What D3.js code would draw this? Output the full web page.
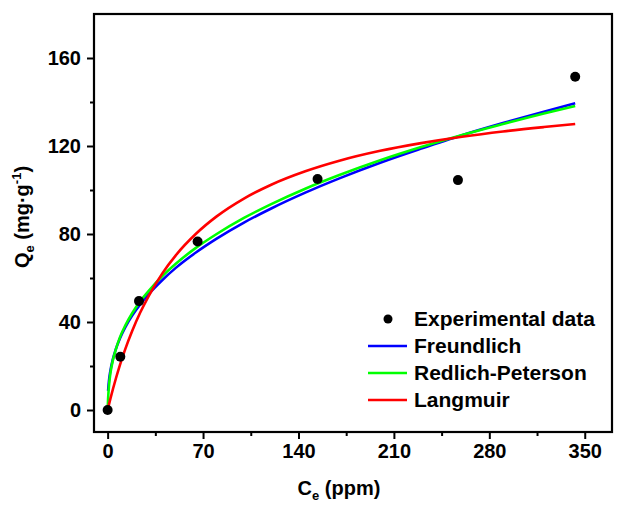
<!DOCTYPE html>
<html>
<head>
<meta charset="utf-8">
<script src="https://cdn.jsdelivr.net/npm/d3@7"></script>
<style>
  html, body { margin: 0; padding: 0; background: #fff; }
  svg { display: block; }
  text { font-family: Arial, "Liberation Sans", sans-serif; font-weight: bold; fill: #000; }
</style>
</head>
<body>
<svg id="chart" width="632" height="506"></svg>
<script>
// ---- data ----
const expC = [0, 9.3, 23, 66, 154, 257, 343];
const expQ = [0, 24.2, 49.5, 76.6, 105, 104.5, 151.5];

const fitC = [0, 0.33, 1, 2, 4, 6, 9, 13, 18, 24, 30, 40, 50, 65, 80, 100, 120, 145, 170, 200, 230, 260, 290, 320, 343];
const freundlichQ = [null, 8.7, 13.5, 17.8, 23.5, 27.6, 32.5, 37.7, 42.9, 48.1, 52.6, 59.0, 64.6, 71.7, 77.9, 85.2, 91.6, 98.8, 105.3, 112.4, 118.8, 124.9, 130.4, 135.6, 139.4];
const redlichQ = [0, 5, 11, 16.5, 23, 27.5, 33, 38.5, 44, 49.5, 54, 60.8, 66.5, 73.8, 80, 87.3, 93.6, 100.6, 106.8, 113.5, 119.5, 125, 130, 134.8, 138.2];
const langmuirQ = [0, 0.85, 2.57, 5.06, 9.78, 14.2, 20.4, 27.8, 35.9, 44.4, 51.7, 62.0, 70.3, 80.2, 88.0, 96.1, 102.4, 108.5, 113.3, 117.8, 121.3, 124.2, 126.6, 128.6, 130.0];

const xMajorTicks = [0, 70, 140, 210, 280, 350];
const xMinorTicks = [35, 105, 175, 245, 315];
const yMajorTicks = [0, 40, 80, 120, 160];
const yMinorTicks = [20, 60, 100, 140];

const seriesNames = ["Experimental data", "Freundlich", "Redlich-Peterson", "Langmuir"];
const seriesColors = ["#000000", "#0000ff", "#00ff00", "#ff0000"];

// ---- layout ----
const svg = d3.select("#chart");
const plotL = 94, plotR = 612, plotT = 14, plotB = 432;

const x = d3.scaleLinear().domain([-10, 370]).range([plotL, plotR]);
const y = d3.scaleLinear().domain([-10, 180]).range([plotB, plotT]);

// axes
const xAxis = d3.axisBottom(x).tickValues(xMajorTicks).tickSize(7).tickPadding(5).tickFormat(d3.format("d"));
const xAxisMinor = d3.axisBottom(x).tickValues(xMinorTicks).tickSize(4).tickFormat("");
const yAxis = d3.axisLeft(y).tickValues(yMajorTicks).tickSize(7).tickPadding(6).tickFormat(d3.format("d"));
const yAxisMinor = d3.axisLeft(y).tickValues(yMinorTicks).tickSize(4).tickFormat("");

function styleAxis(g) {
  g.select(".domain").remove();
  g.selectAll(".tick line").attr("stroke", "#000").attr("stroke-width", 2);
  g.selectAll(".tick text").style("font-size", "20px").style("font-family", "Arial, 'Liberation Sans', sans-serif").style("font-weight", "bold").attr("fill", "#000");
}

svg.append("g").attr("transform", `translate(0,${plotB})`).call(xAxis).call(styleAxis);
svg.append("g").attr("transform", `translate(0,${plotB})`).call(xAxisMinor).call(styleAxis);
svg.append("g").attr("transform", `translate(${plotL},0)`).call(yAxis).call(styleAxis);
svg.append("g").attr("transform", `translate(${plotL},0)`).call(yAxisMinor).call(styleAxis);

// frame
svg.append("rect")
  .attr("x", plotL).attr("y", plotT)
  .attr("width", plotR - plotL).attr("height", plotB - plotT)
  .attr("fill", "none").attr("stroke", "#000").attr("stroke-width", 2.2);

// fitted curves
const line = d3.line()
  .defined(d => d[1] !== null)
  .x(d => x(d[0])).y(d => y(d[1]))
  .curve(d3.curveMonotoneX);

const curves = [
  { q: freundlichQ, color: seriesColors[1] },
  { q: redlichQ, color: seriesColors[2] },
  { q: langmuirQ, color: seriesColors[3] }
];
curves.forEach(c => {
  svg.append("path")
    .datum(fitC.map((cv, i) => [cv, c.q[i]]))
    .attr("d", line)
    .attr("fill", "none")
    .attr("stroke", c.color)
    .attr("stroke-width", 2.6);
});

// experimental points
svg.append("g").selectAll("circle")
  .data(expC.map((c, i) => [c, expQ[i]]))
  .join("circle")
  .attr("cx", d => x(d[0])).attr("cy", d => y(d[1]))
  .attr("r", 5).attr("fill", "#000");

// axis titles
const xt = svg.append("text").attr("x", 339).attr("y", 495).attr("text-anchor", "middle").style("font-size", "20px");
xt.append("tspan").text("C");
xt.append("tspan").attr("dy", 5).style("font-size", "13px").text("e");
xt.append("tspan").attr("dy", -5).text(" (ppm)");

const yt = svg.append("text").attr("transform", "translate(29,217) rotate(-90)").attr("text-anchor", "middle").style("font-size", "20px");
yt.append("tspan").text("Q");
yt.append("tspan").attr("dy", 5).style("font-size", "13px").text("e");
yt.append("tspan").attr("dy", -5).text(" (mg·g");
yt.append("tspan").attr("dy", -8).style("font-size", "13px").text("-1");
yt.append("tspan").attr("dy", 8).text(")");

// legend
const legY0 = 319, legStep = 27;
const leg = svg.append("g");
seriesNames.forEach((name, i) => {
  const yy = legY0 + i * legStep;
  if (i === 0) {
    leg.append("circle").attr("cx", 388).attr("cy", yy).attr("r", 4.5).attr("fill", seriesColors[0]);
  } else {
    leg.append("line").attr("x1", 368).attr("x2", 407).attr("y1", yy).attr("y2", yy)
      .attr("stroke", seriesColors[i]).attr("stroke-width", 2.6);
  }
  leg.append("text").attr("x", 414).attr("y", yy + 7).style("font-size", "21px").text(name);
});
</script>
</body>
</html>
